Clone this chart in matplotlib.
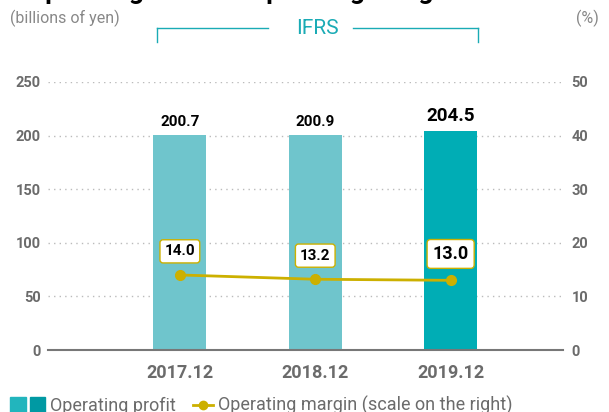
import matplotlib
matplotlib.use("Agg")
import matplotlib.pyplot as plt
from matplotlib.patches import Rectangle
from matplotlib.lines import Line2D

plt.rcParams["font.family"] = ["Roboto", "DejaVu Sans"]

periods = ["2017.12", "2018.12", "2019.12"]
operating_profit = [200.7, 200.9, 204.5]
operating_margin = [14.0, 13.2, 13.0]
left_ticks = [0, 50, 100, 150, 200, 250]
right_ticks = [0, 10, 20, 30, 40, 50]

W, H = 609, 412
BAR_LIGHT = "#6fc5cc"
BAR_DARK = "#00adb5"
GOLD = "#ccb000"
GRAY = "#6b6b6b"
TEAL_TXT = "#1aabb5"

fig = plt.figure(figsize=(W / 100, H / 100), dpi=100)


def px(x, y):
    return x / W, 1 - y / H


ax_l, ax_r, ax_t, ax_b = 48, 563, 82, 350
ax = fig.add_axes([ax_l / W, 1 - ax_b / H, (ax_r - ax_l) / W, (ax_b - ax_t) / H])
x = list(range(len(periods)))
colors = [BAR_LIGHT] * (len(periods) - 1) + [BAR_DARK]
ax.bar(x, operating_profit, width=0.39, color=colors, zorder=2)
ax.set_xlim(-0.974, 2.83)
ax.set_ylim(0, 250)
ax.set_yticks(left_ticks)
ax.set_xticks(x)
ax.set_xticklabels(periods, fontsize=13, fontweight="bold", color=GRAY)
ax.tick_params(axis="x", length=0, pad=10)
ax.tick_params(axis="y", length=0, pad=5, labelsize=10.5, labelcolor=GRAY)
for lab in ax.get_yticklabels():
    lab.set_fontweight("bold")
for s in ["top", "right", "left"]:
    ax.spines[s].set_visible(False)
ax.spines["bottom"].set_color("#777777")
ax.spines["bottom"].set_linewidth(1.5)
ax.grid(axis="y", linestyle=(0, (1, 3)), color="#bbbbbb", linewidth=1, zorder=0)
ax.set_axisbelow(True)

for i, v in enumerate(operating_profit):
    last = i == len(operating_profit) - 1
    ax.annotate(f"{v:.1f}", (i, v), xytext=(0, 4), textcoords="offset points",
                ha="center", va="bottom", fontweight="bold",
                fontsize=13.5 if last else 11, color="black", zorder=5)

ax2 = ax.twinx()
ax2.set_ylim(0, 50)
ax2.set_yticks(right_ticks)
ax2.tick_params(axis="y", length=0, pad=6, labelsize=10.5, labelcolor=GRAY)
for lab in ax2.get_yticklabels():
    lab.set_fontweight("bold")
for s in ax2.spines.values():
    s.set_visible(False)
ax2.plot(x, operating_margin, color=GOLD, linewidth=2, marker="o", markersize=7, zorder=4)
for i, v in enumerate(operating_margin):
    last = i == len(operating_margin) - 1
    ax2.annotate(f"{v:.1f}", (i, v), xytext=(0, 19 if last else 17), textcoords="offset points",
                 ha="center", va="center", fontweight="bold",
                 fontsize=13 if last else 11, color="black", zorder=6,
                 bbox=dict(boxstyle="round,pad=0.3,rounding_size=0.2", fc="white", ec=GOLD, lw=1))

# title (clipped at top) and axis unit labels
fig.text(*px(27, -0.5), "Operating Profit & Operating Margin", fontsize=19,
         fontweight="bold", color="black", va="baseline", ha="left")
fig.text(*px(10, 18), "(billions of yen)", fontsize=11.5, color="#888888", va="center", ha="left")
fig.text(*px(599, 18), "(%)", fontsize=11.5, color="#888888", va="center", ha="right")

# IFRS bracket
y_br = 28
fig.add_artist(Line2D([157 / W, 268 / W], [1 - y_br / H] * 2, color=TEAL_TXT, lw=1))
fig.add_artist(Line2D([353 / W, 478 / W], [1 - y_br / H] * 2, color=TEAL_TXT, lw=1))
fig.add_artist(Line2D([157 / W] * 2, [1 - y_br / H, 1 - 42 / H], color=TEAL_TXT, lw=1))
fig.add_artist(Line2D([478 / W] * 2, [1 - y_br / H, 1 - 42 / H], color=TEAL_TXT, lw=1))
fig.text(*px(317, 28), "IFRS", fontsize=15, color=TEAL_TXT, ha="center", va="center")

# legend (clipped at bottom)
fig.add_artist(Rectangle(px(10, 414), 16 / W, 17 / H, color="#22b5bd"))
fig.add_artist(Rectangle(px(30, 414), 15 / W, 17 / H, color="#0099a3"))
fig.text(*px(50, 411), "Operating profit", fontsize=13, color=GRAY, va="baseline", ha="left")
fig.add_artist(Line2D([193 / W, 213 / W], [1 - 405 / H] * 2, color=GOLD, lw=2))
fig.add_artist(Line2D([203 / W], [1 - 405 / H], color=GOLD, marker="o", markersize=6))
fig.text(*px(218, 411), "Operating margin (scale on the right)", fontsize=13,
         color=GRAY, va="baseline", ha="left")

fig.savefig("out.png", dpi=100)
